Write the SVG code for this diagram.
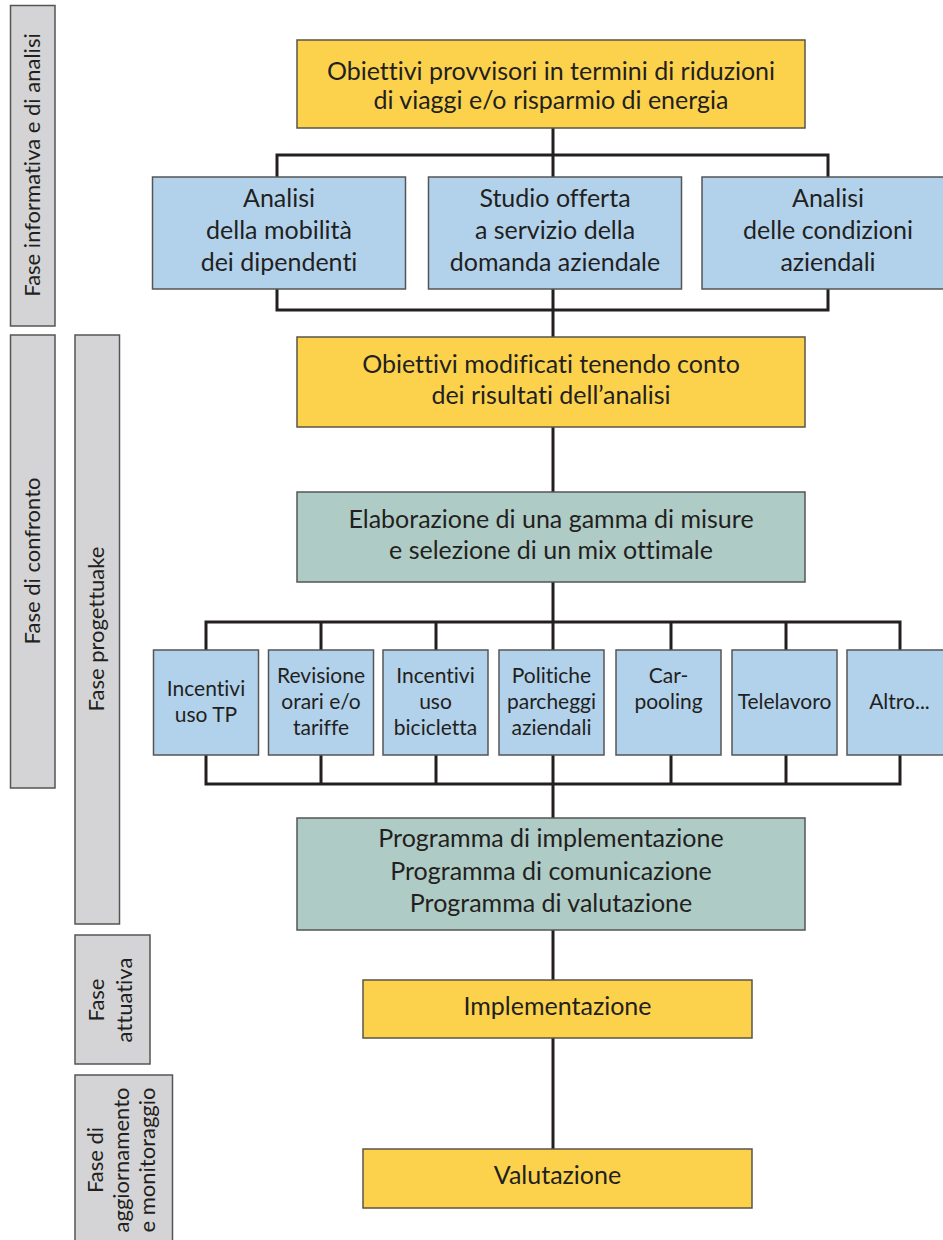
<svg xmlns="http://www.w3.org/2000/svg" width="943" height="1240" viewBox="0 0 943 1240">
<style>
text{font-family:Lato,"Liberation Sans",sans-serif;fill:#231F20;text-anchor:middle;font-variant-ligatures:none}
.m{font-size:25px}
.s{font-size:21px}
.p{font-size:22px}
.y{fill:#FCD24D;stroke:#5A5448;stroke-width:1.5}
.b{fill:#B2D2EC;stroke:#555;stroke-width:1.5}
.t{fill:#AFCBC5;stroke:#555;stroke-width:1.5}
.g{fill:#D4D4D6;stroke:#555;stroke-width:1.5}
.c{fill:none;stroke:#231F20;stroke-width:3}
</style>
<rect width="943" height="1240" fill="#fff"/>
<g id="connectors" class="c">
<path d="M553,128V177M277,177V155H828V177"/>
<path d="M277,289V310H828V289M553,289V337"/>
<path d="M553,427V492"/>
<path d="M553,582V650M206,650V622H900V650M321,622V650M436,622V650M671,622V650M786,622V650"/>
<path d="M206,755V784H900V755M321,755V784M436,755V784M553,755V818M671,755V784M786,755V784"/>
<path d="M553,930V980"/>
<path d="M553,1038V1149"/>
</g>
<g id="phase1"><rect class="g" x="10.5" y="5.5" width="44.5" height="320.5"/><text class="p" transform="translate(40,165) rotate(-90)">Fase informativa e di analisi</text></g>
<g id="phase2"><rect class="g" x="10.5" y="335" width="44.5" height="453"/><text class="p" transform="translate(40,561) rotate(-90)">Fase di confronto</text></g>
<g id="phase3"><rect class="g" x="75" y="335" width="44.5" height="589"/><text class="p" transform="translate(104,629) rotate(-90)">Fase progettuake</text></g>
<g id="phase4"><rect class="g" x="75" y="935" width="75" height="129"/><text class="p" transform="translate(104,1000) rotate(-90)">Fase</text><text class="p" transform="translate(132,1000) rotate(-90)">attuativa</text></g>
<g id="phase5"><rect class="g" x="75" y="1075" width="97.5" height="175"/><text class="p" transform="translate(103,1160) rotate(-90)">Fase di</text><text class="p" transform="translate(129,1160) rotate(-90)">aggiornamento</text><text class="p" transform="translate(155,1160) rotate(-90)">e monitoraggio</text></g>
<g id="n1"><rect class="y" x="297" y="40" width="508" height="88"/><text class="m" x="551" y="80">Obiettivi provvisori in termini di riduzioni</text><text class="m" x="551" y="109">di viaggi e/o risparmio di energia</text></g>
<g id="n2"><rect class="b" x="152.5" y="177" width="253" height="112"/><text class="m" x="279" y="207">Analisi</text><text class="m" x="279" y="239">della mobilità</text><text class="m" x="279" y="271">dei dipendenti</text></g>
<g id="n3"><rect class="b" x="428.5" y="177" width="253" height="112"/><text class="m" x="555" y="207">Studio offerta</text><text class="m" x="555" y="239">a servizio della</text><text class="m" x="555" y="271">domanda aziendale</text></g>
<g id="n4"><rect class="b" x="702" y="177" width="253" height="112"/><text class="m" x="828" y="207">Analisi</text><text class="m" x="828" y="239">delle condizioni</text><text class="m" x="828" y="271">aziendali</text></g>
<g id="n5"><rect class="y" x="297" y="337" width="508" height="90"/><text class="m" x="551" y="373">Obiettivi modificati tenendo conto</text><text class="m" x="551" y="404">dei risultati dell’analisi</text></g>
<g id="n6"><rect class="t" x="297" y="492" width="508" height="90"/><text class="m" x="551" y="528">Elaborazione di una gamma di misure</text><text class="m" x="551" y="559">e selezione di un mix ottimale</text></g>
<g id="m1"><rect class="b" x="153.5" y="650" width="105" height="105"/><text class="s" x="206" y="696">Incentivi</text><text class="s" x="206" y="722">uso TP</text></g>
<g id="m2"><rect class="b" x="268.5" y="650" width="105" height="105"/><text class="s" x="321" y="683">Revisione</text><text class="s" x="321" y="709">orari e/o</text><text class="s" x="321" y="735">tariffe</text></g>
<g id="m3"><rect class="b" x="383" y="650" width="105" height="105"/><text class="s" x="435.5" y="683">Incentivi</text><text class="s" x="435.5" y="709">uso</text><text class="s" x="435.5" y="735">bicicletta</text></g>
<g id="m4"><rect class="b" x="499" y="650" width="105" height="105"/><text class="s" x="551.5" y="683">Politiche</text><text class="s" x="551.5" y="709">parcheggi</text><text class="s" x="551.5" y="735">aziendali</text></g>
<g id="m5"><rect class="b" x="616" y="650" width="105" height="105"/><text class="s" x="668.5" y="683">Car-</text><text class="s" x="668.5" y="709">pooling</text></g>
<g id="m6"><rect class="b" x="732" y="650" width="105" height="105"/><text class="s" x="784.5" y="709">Telelavoro</text></g>
<g id="m7"><rect class="b" x="847" y="650" width="105" height="105"/><text class="s" x="899.5" y="709">Altro...</text></g>
<g id="n7"><rect class="t" x="297" y="818" width="508" height="112"/><text class="m" x="551" y="847">Programma di implementazione</text><text class="m" x="551" y="880">Programma di comunicazione</text><text class="m" x="551" y="912">Programma di valutazione</text></g>
<g id="n8"><rect class="y" x="363" y="980" width="389" height="58"/><text class="m" x="557.5" y="1015">Implementazione</text></g>
<g id="n9"><rect class="y" x="363" y="1149" width="389" height="59"/><text class="m" x="557.5" y="1184">Valutazione</text></g>
</svg>
